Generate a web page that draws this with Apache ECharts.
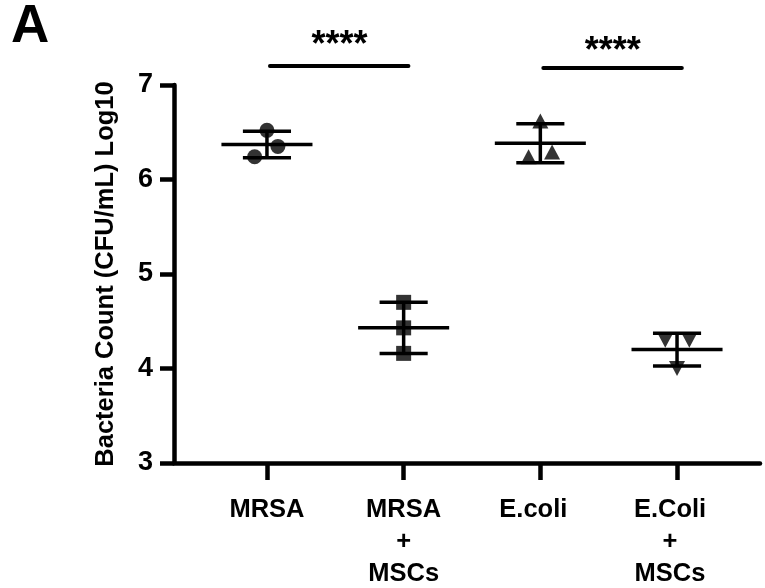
<!DOCTYPE html>
<html>
<head>
<meta charset="utf-8">
<script src="https://cdn.jsdelivr.net/npm/echarts@6.0.0/dist/echarts.min.js"></script>
<style>
  html, body { margin: 0; padding: 0; background: #fff; }
  #main { width: 765px; height: 588px; }
</style>
</head>
<body>
<div id="main"></div>
<script>
// groups along the x axis (positions 1..4)
var categories = ['MRSA', 'MRSA\n+\nMSCs', 'E.coli', 'E.Coli\n+\nMSCs'];
// log10 CFU/mL, three replicates each
var mrsa = [6.52, 6.35, 6.24];
var mrsaMsc = [4.70, 4.43, 4.16];
var ecoli = [6.62, 6.29, 6.24];
var ecoliMsc = [4.30, 4.30, 4.00];
// horizontal spread of the replicate dots (in group units)
var jitter = [[0, 0.08, -0.09], [0, 0, 0], [0, 0.086, -0.086], [-0.086, 0.09, 0]];
var yTicks = [3, 4, 5, 6, 7];
// significance brackets
var sigPairs = [[1, 2], [3, 4]];
var sigLevel = [7.20, 7.18];
var sigStarY = [7.41, 7.35];
var sigText = ['****', '****'];

var groups = [mrsa, mrsaMsc, ecoli, ecoliMsc];
var FONT = '"Liberation Sans", Arial, sans-serif';

function meanSd(arr) {
    var m = arr.reduce(function (a, b) { return a + b; }, 0) / arr.length;
    var v = arr.reduce(function (a, b) { return a + (b - m) * (b - m); }, 0) / (arr.length - 1);
    return [m, Math.sqrt(v)];
}

var errData = groups.map(function (g, i) {
    var ms = meanSd(g);
    return [i + 1, ms[0], ms[0] - ms[1], ms[0] + ms[1]];
});

function pts(i) {
    return groups[i].map(function (v, k) { return [i + 1 + jitter[i][k], v]; });
}

var myChart = echarts.init(document.getElementById('main'));

var option = {
    animation: false,
    backgroundColor: '#fff',
    grid: { left: 174, right: 5, top: 85, bottom: 125, outerBoundsMode: 'none' },
    graphic: [{
        type: 'text',
        left: 11,
        top: 1,
        style: { text: 'A', font: 'bold 53px ' + FONT, fill: '#000' }
    }],
    xAxis: {
        type: 'value',
        min: 0.32,
        max: 4.607,
        splitLine: { show: false },
        axisLine: { onZero: false, lineStyle: { color: '#000', width: 4.5 } },
        axisTick: { show: true, customValues: [1, 2, 3, 4], length: 17, lineStyle: { color: '#000', width: 4.5 } },
        axisLabel: {
            customValues: [1, 2, 3, 4],
            margin: 31,
            color: '#000',
            fontFamily: FONT,
            fontWeight: 'bold',
            fontSize: 25.5,
            lineHeight: 32,
            formatter: function (v) {
                var i = Math.round(v) - 1;
                if (i >= 2) {
                    return categories[i].split('\n').map(function (s) { return '{s|' + s + '}'; }).join('\n');
                }
                return categories[i];
            },
            rich: {
                s: { fontFamily: FONT, fontWeight: 'bold', fontSize: 25.5, lineHeight: 32, color: '#000', padding: [0, 14, 0, 0] }
            }
        }
    },
    yAxis: {
        type: 'value',
        min: yTicks[0],
        max: yTicks[yTicks.length - 1],
        interval: 1,
        name: 'Bacteria Count (CFU/mL) Log10',
        nameLocation: 'middle',
        nameGap: 55,
        nameTextStyle: { color: '#000', fontFamily: FONT, fontWeight: 'bold', fontSize: 25.5 },
        splitLine: { show: false },
        axisLine: { show: true, onZero: false, lineStyle: { color: '#000', width: 4.5 } },
        axisTick: { show: true, length: 14, lineStyle: { color: '#000', width: 4.5 } },
        axisLabel: { margin: 21, color: '#000', fontFamily: FONT, fontWeight: 'bold', fontSize: 27 }
    },
    series: [
        {
            type: 'custom',
            name: 'meanSD',
            clip: false,
            data: errData,
            renderItem: function (params, api) {
                var x = api.value(0);
                var c = api.coord([x, api.value(1)]);
                var lo = api.coord([x, api.value(2)]);
                var hi = api.coord([x, api.value(3)]);
                var wMean = api.size([0.333, 0])[0];
                var wSd = api.size([0.176, 0])[0];
                var st = { stroke: '#000', lineWidth: 3.5 };
                return {
                    type: 'group',
                    children: [
                        { type: 'line', shape: { x1: c[0] - wMean, y1: c[1], x2: c[0] + wMean, y2: c[1] }, style: st },
                        { type: 'line', shape: { x1: lo[0] - wSd, y1: lo[1], x2: lo[0] + wSd, y2: lo[1] }, style: st },
                        { type: 'line', shape: { x1: hi[0] - wSd, y1: hi[1], x2: hi[0] + wSd, y2: hi[1] }, style: st },
                        { type: 'line', shape: { x1: lo[0], y1: lo[1], x2: hi[0], y2: hi[1] }, style: st }
                    ]
                };
            }
        },
        { type: 'scatter', data: pts(0), symbol: 'circle', symbolSize: 15, itemStyle: { color: '#000' } },
        { type: 'scatter', data: pts(1), symbol: 'rect', symbolSize: 15, itemStyle: { color: '#000' } },
        { type: 'scatter', data: pts(2), symbol: 'triangle', symbolSize: [16, 15], itemStyle: { color: '#000' } },
        { type: 'scatter', data: pts(3), symbol: 'triangle', symbolRotate: 180, symbolSize: [16, 15], itemStyle: { color: '#000' } },
        {
            type: 'custom',
            name: 'significance',
            clip: false,
            data: sigPairs.map(function (p, i) { return [p[0], p[1], sigLevel[i], sigStarY[i]]; }),
            renderItem: function (params, api) {
                var a = api.coord([api.value(0) + 0.022, api.value(2)]);
                var b = api.coord([api.value(1) + 0.035, api.value(2)]);
                var t = api.coord([(api.value(0) + api.value(1)) / 2 + 0.03, api.value(3)]);
                return {
                    type: 'group',
                    children: [
                        { type: 'line', shape: { x1: a[0], y1: a[1], x2: b[0], y2: b[1] }, style: { stroke: '#000', lineWidth: 4, lineCap: 'round' } },
                        { type: 'text', x: t[0], y: t[1], style: { text: sigText[params.dataIndex], font: 'bold 36px ' + FONT, fill: '#000', align: 'center', verticalAlign: 'middle' } }
                    ]
                };
            }
        }
    ]
};

myChart.setOption(option);
</script>
</body>
</html>
